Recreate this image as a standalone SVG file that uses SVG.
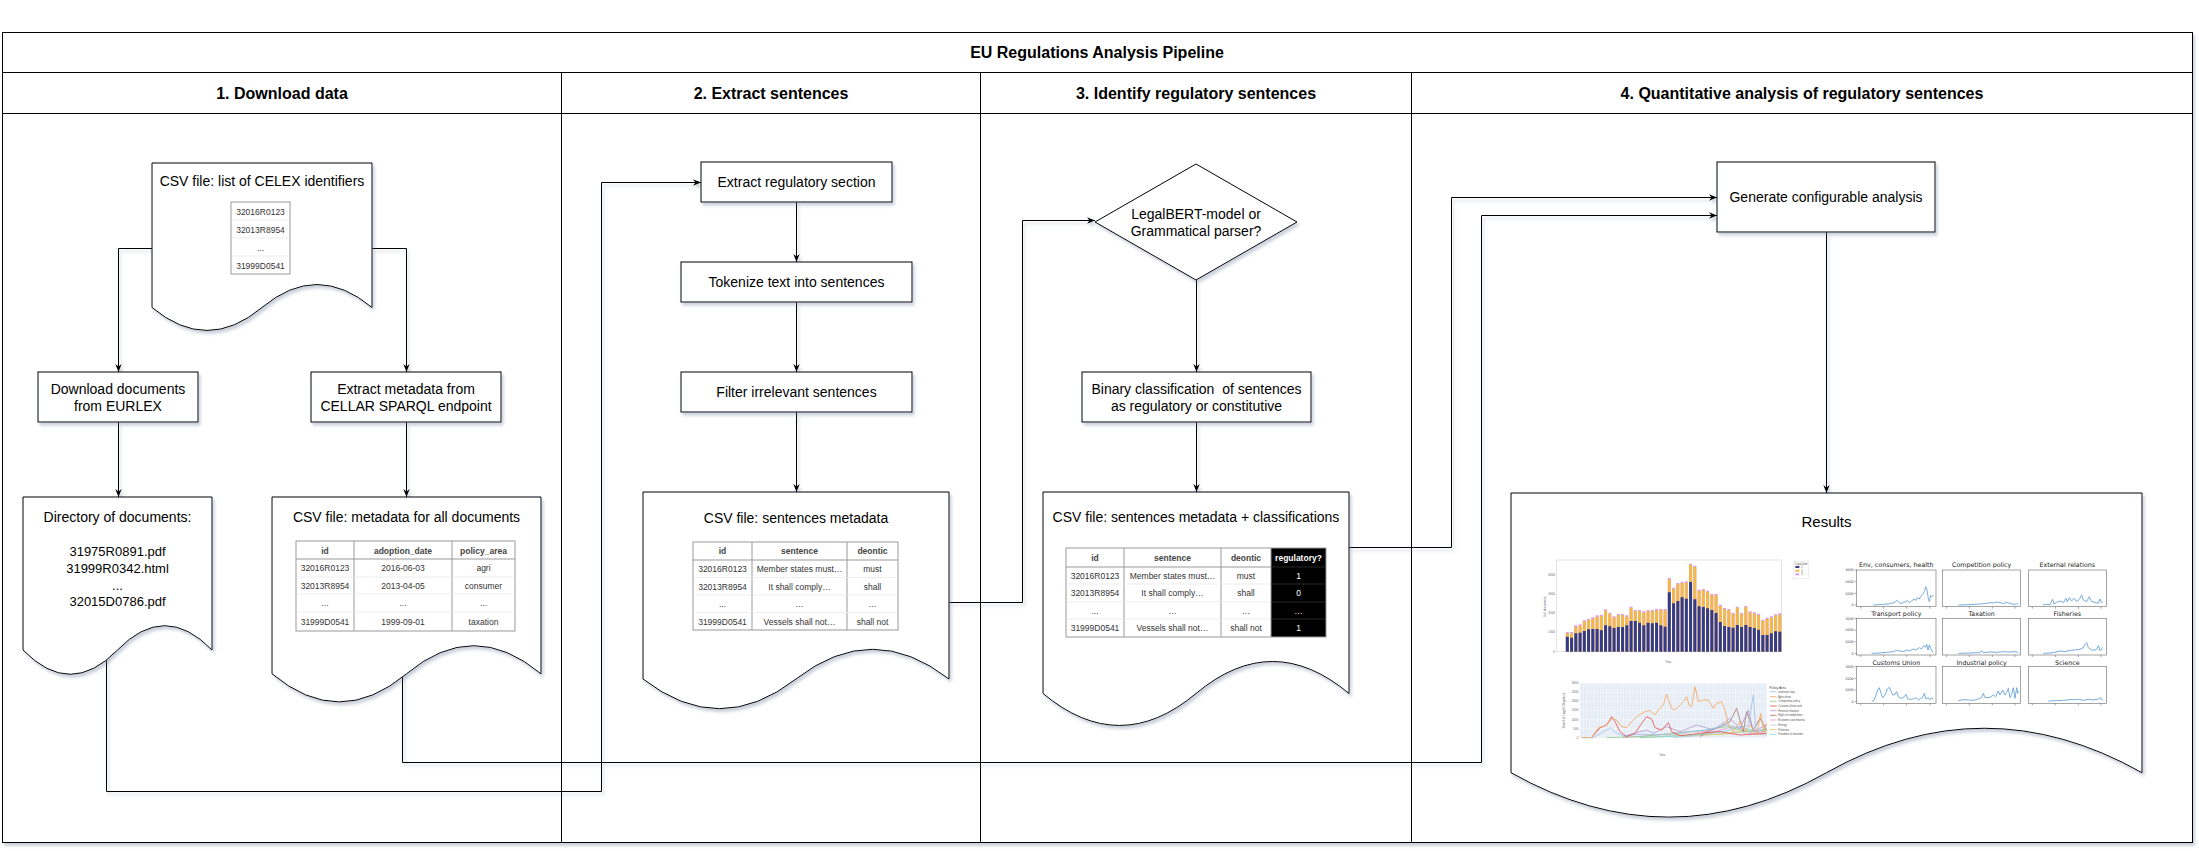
<svg xmlns="http://www.w3.org/2000/svg" width="2199" height="851" viewBox="0 0 2199 851">
<defs>
<style>
text{font-family:"Liberation Sans",Arial,Helvetica,sans-serif}
.ln{fill:none;stroke:#000;stroke-width:1}
.la{fill:none;stroke:#000;stroke-width:1;marker-end:url(#arr)}
.box{fill:#fff;stroke:#000;stroke-width:1}
.t14{font-size:14px;fill:#000;text-anchor:middle}
.t13{font-size:13px;fill:#000;text-anchor:middle}
.hd{font-size:16px;font-weight:bold;fill:#000;text-anchor:middle}
.tb{font-size:8.5px;fill:#333;text-anchor:middle}
.th{font-size:8.5px;font-weight:bold;fill:#444;text-anchor:middle}
.tw{font-size:8.5px;fill:#fff;text-anchor:middle}
.twh{font-size:8.5px;font-weight:bold;fill:#fff;text-anchor:middle}
.tg{fill:none;stroke:#999;stroke-width:1}
.tf{fill:none;stroke:#e8e8e8;stroke-width:0.8}
.sp{fill:none;stroke:#5b9bd5;stroke-width:2.5;stroke-linejoin:round}
.fr{fill:#fff;stroke:#777;stroke-width:2}
.st{font-family:"DejaVu Sans",sans-serif;font-size:19px;fill:#222;text-anchor:middle}
.yt{font-family:"DejaVu Sans",sans-serif;font-size:10px;fill:#444;text-anchor:end}
.pl{fill:none;stroke-width:2.5;stroke-linejoin:round}
.lg{font-size:8px;fill:#555}
.ax{font-size:9px;fill:#666}
</style>
<filter id="sh" filterUnits="userSpaceOnUse" x="0" y="0" width="2199" height="851">
<feDropShadow dx="2" dy="3" stdDeviation="1.5" flood-color="#6b7a99" flood-opacity="0.35"/>
</filter>
<marker id="arr" viewBox="0 0 10 10" refX="10" refY="5" markerWidth="8" markerHeight="8" markerUnits="userSpaceOnUse" orient="auto">
<path d="M0 1 L10 5 L0 9 L3 5 Z" fill="#000"/>
</marker>
<pattern id="vgrid" patternUnits="userSpaceOnUse" x="120" y="0" width="8.6" height="10">
<rect x="0" y="0" width="1.2" height="10" fill="#fff"/>
</pattern>
</defs>
<rect x="0" y="0" width="2199" height="851" fill="#fff"/>

<g id="pool" filter="url(#sh)">
<rect x="2.5" y="32.5" width="2190" height="810" fill="#fff" stroke="#000" stroke-width="1"/>
<path class="ln" d="M2.5 72.5H2192.5M2.5 113.5H2192.5M561.5 72.5V842.5M980.5 72.5V842.5M1411.5 72.5V842.5"/>
</g>
<g id="pool-labels">
<text class="hd" x="1097" y="58">EU Regulations Analysis Pipeline</text>
<text class="hd" x="282" y="99">1. Download data</text>
<text class="hd" x="771" y="99">2. Extract sentences</text>
<text class="hd" x="1196" y="99">3. Identify regulatory sentences</text>
<text class="hd" x="1802" y="99">4. Quantitative analysis of regulatory sentences</text>
</g>

<g id="connectors" filter="url(#sh)">
<path class="la" d="M152 248.5H118.5V372"/>
<path class="la" d="M372 248.5H406.5V372"/>
<path class="la" d="M118.5 422V497"/>
<path class="la" d="M406.5 422V497"/>
<path class="la" d="M106.5 655V791.5H601.5V182.5H701"/>
<path class="la" d="M402.5 670V762.5H1481.5V215.5H1717"/>
<path class="la" d="M796.5 202V262"/>
<path class="la" d="M796.5 302V372"/>
<path class="la" d="M796.5 412V492"/>
<path class="la" d="M949 602.5H1022.5V220.5H1095"/>
<path class="la" d="M1196.5 280V372"/>
<path class="la" d="M1196.5 422V492"/>
<path class="la" d="M1349 547.5H1451.5V197.5H1717"/>
<path class="la" d="M1826.5 232V493"/>
</g>

<g id="node-celex-list">
<path class="box" filter="url(#sh)" d="M152 163H372V307.5Q317 261.6 262 307.5Q207 353.4 152 307.5Z"/>
<text class="t14" x="262" y="186">CSV file: list of CELEX identifiers</text>
<rect class="tg" x="231" y="202" width="59" height="72"/>
<path class="tf" d="M231.5 220H289.5M231.5 238H289.5M231.5 256H289.5"/>
<text class="tb" x="260.5" y="214.5">32016R0123</text>
<text class="tb" x="260.5" y="232.5">32013R8954</text>
<text class="tb" x="260.5" y="250.5">...</text>
<text class="tb" x="260.5" y="268.5">31999D0541</text>
</g>

<g id="node-download">
<rect class="box" filter="url(#sh)" x="38" y="372" width="160" height="50"/>
<text class="t14" x="118" y="394">Download documents</text>
<text class="t14" x="118" y="411">from EURLEX</text>
</g>

<g id="node-extract-metadata">
<rect class="box" filter="url(#sh)" x="311" y="372" width="190" height="50"/>
<text class="t14" x="406" y="394">Extract metadata from</text>
<text class="t14" x="406" y="411">CELLAR SPARQL endpoint</text>
</g>

<g id="node-directory">
<path class="box" filter="url(#sh)" d="M23 497H212V650Q164.75 601.4 117.5 650Q70.25 698.6 23 650Z"/>
<text class="t14" x="117.5" y="522">Directory of documents:</text>
<text class="t13" x="117.5" y="556">31975R0891.pdf</text>
<text class="t13" x="117.5" y="573">31999R0342.html</text>
<text class="t13" x="117.5" y="590">...</text>
<text class="t13" x="117.5" y="606">32015D0786.pdf</text>
</g>

<g id="node-metadata-csv">
<path class="box" filter="url(#sh)" d="M272 497H541V673.8Q473.75 617.6 406.5 673.8Q339.25 730 272 673.8Z"/>
<text class="t14" x="406.5" y="522">CSV file: metadata for all documents</text>
<rect class="tg" x="296" y="541" width="219" height="90"/>
<path class="tg" d="M296 559H515M354 541V631M452 541V631"/>
<path class="tf" d="M296.5 577H353.5M354.5 577H451.5M452.5 577H514.5M296.5 594H514.5M296.5 612H514.5"/>
<text class="th" x="325" y="553.5">id</text>
<text class="th" x="403" y="553.5">adoption_date</text>
<text class="th" x="483.5" y="553.5">policy_area</text>
<text class="tb" x="325" y="571">32016R0123</text>
<text class="tb" x="403" y="571">2016-06-03</text>
<text class="tb" x="483.5" y="571">agri</text>
<text class="tb" x="325" y="588.5">32013R8954</text>
<text class="tb" x="403" y="588.5">2013-04-05</text>
<text class="tb" x="483.5" y="588.5">consumer</text>
<text class="tb" x="325" y="606">...</text>
<text class="tb" x="403" y="606">...</text>
<text class="tb" x="483.5" y="606">...</text>
<text class="tb" x="325" y="624.5">31999D0541</text>
<text class="tb" x="403" y="624.5">1999-09-01</text>
<text class="tb" x="483.5" y="624.5">taxation</text>
</g>

<g id="node-extract-section">
<rect class="box" filter="url(#sh)" x="701" y="162" width="191" height="40"/>
<text class="t14" x="796.5" y="187">Extract regulatory section</text>
</g>

<g id="node-tokenize">
<rect class="box" filter="url(#sh)" x="681" y="262" width="231" height="40"/>
<text class="t14" x="796.5" y="287">Tokenize text into sentences</text>
</g>

<g id="node-filter">
<rect class="box" filter="url(#sh)" x="681" y="372" width="231" height="40"/>
<text class="t14" x="796.5" y="397">Filter irrelevant sentences</text>
</g>

<g id="node-sentences-csv">
<path class="box" filter="url(#sh)" d="M643 492H949V679Q872.5 619.6 796 679Q719.5 738.4 643 679Z"/>
<text class="t14" x="796" y="523">CSV file: sentences metadata</text>
<rect class="tg" x="693" y="542" width="205" height="88"/>
<path class="tg" d="M693 560H898M752 542V630M847 542V630"/>
<path class="tf" d="M693.5 577.5H897.5M693.5 595H897.5M693.5 612.5H897.5"/>
<text class="th" x="722.5" y="554">id</text>
<text class="th" x="799.5" y="554">sentence</text>
<text class="th" x="872.5" y="554">deontic</text>
<text class="tb" x="722.5" y="572">32016R0123</text>
<text class="tb" x="799.5" y="572">Member states must…</text>
<text class="tb" x="872.5" y="572">must</text>
<text class="tb" x="722.5" y="589.5">32013R8954</text>
<text class="tb" x="799.5" y="589.5">It shall comply…</text>
<text class="tb" x="872.5" y="589.5">shall</text>
<text class="tb" x="722.5" y="607">...</text>
<text class="tb" x="799.5" y="607">…</text>
<text class="tb" x="872.5" y="607">…</text>
<text class="tb" x="722.5" y="624.5">31999D0541</text>
<text class="tb" x="799.5" y="624.5">Vessels shall not…</text>
<text class="tb" x="872.5" y="624.5">shall not</text>
</g>

<g id="node-decision">
<path class="box" filter="url(#sh)" d="M1196 164L1297 222L1196 280L1095 222Z"/>
<text class="t14" x="1196" y="219">LegalBERT-model or</text>
<text class="t14" x="1196" y="236">Grammatical parser?</text>
</g>

<g id="node-binary">
<rect class="box" filter="url(#sh)" x="1082" y="372" width="229" height="50"/>
<text class="t14" x="1196.5" y="394" xml:space="preserve">Binary classification  of sentences</text>
<text class="t14" x="1196.5" y="411">as regulatory or constitutive</text>
</g>

<g id="node-classified-csv">
<path class="box" filter="url(#sh)" d="M1043 492H1349V693.5Q1272.5 629.5 1196 693.5Q1119.5 757.4 1043 693.5Z"/>
<text class="t14" x="1196" y="522">CSV file: sentences metadata + classifications</text>
<rect x="1271" y="548" width="55" height="89" fill="#000"/>
<rect class="tg" x="1066" y="548" width="260" height="89"/>
<path class="tg" d="M1066 567H1271M1124 548V637M1221 548V637M1271 548V637"/>
<path class="tf" d="M1066.5 584H1270.5M1066.5 602H1270.5M1066.5 619H1270.5"/>
<path fill="none" stroke="#333" stroke-width="0.8" d="M1271.5 567H1325.5M1271.5 584H1325.5M1271.5 602H1325.5M1271.5 619H1325.5"/>
<text class="th" x="1095" y="561">id</text>
<text class="th" x="1172.5" y="561">sentence</text>
<text class="th" x="1246" y="561">deontic</text>
<text class="twh" x="1298.5" y="561">regulatory?</text>
<text class="tb" x="1095" y="578.5">32016R0123</text>
<text class="tb" x="1172.5" y="578.5">Member states must…</text>
<text class="tb" x="1246" y="578.5">must</text>
<text class="tw" x="1298.5" y="578.5">1</text>
<text class="tb" x="1095" y="596">32013R8954</text>
<text class="tb" x="1172.5" y="596">It shall comply…</text>
<text class="tb" x="1246" y="596">shall</text>
<text class="tw" x="1298.5" y="596">0</text>
<text class="tb" x="1095" y="613.5">...</text>
<text class="tb" x="1172.5" y="613.5">…</text>
<text class="tb" x="1246" y="613.5">…</text>
<text class="tw" x="1298.5" y="613.5">…</text>
<text class="tb" x="1095" y="631">31999D0541</text>
<text class="tb" x="1172.5" y="631">Vessels shall not…</text>
<text class="tb" x="1246" y="631">shall not</text>
<text class="tw" x="1298.5" y="631">1</text>
</g>

<g id="node-generate">
<rect class="box" filter="url(#sh)" x="1717" y="162" width="218" height="70"/>
<text class="t14" x="1826" y="202">Generate configurable analysis</text>
</g>

<g id="node-results">
<path class="box" filter="url(#sh)" d="M1511 493H2142V772.7Q1984.25 683.8 1826.5 772.7Q1668.75 861.5 1511 772.7Z"/>
<text x="1826.5" y="527" font-size="15" text-anchor="middle" fill="#000">Results</text>

<g transform="translate(1540,545) scale(0.333333)">
<rect x="50" y="45" width="675" height="275" fill="#fff" stroke="#d6d6d6" stroke-width="2"/>
<path fill="#e39ddd" d="M77.5 320V261h9V320zM90.25 320V261h9V320zM103 320V241h9V320zM115.75 320V238h9V320zM128.5 320V226h9V320zM141.25 320V222h9V320zM154 320V217h9V320zM166.75 320V211h9V320zM179.5 320V209h9V320zM192.25 320V193h9V320zM205 320V203h9V320zM217.75 320V214h9V320zM230.5 320V207h9V320zM243.25 320V207h9V320zM256 320V211h9V320zM268.75 320V185h9V320zM281.5 320V195h9V320zM294.25 320V195h9V320zM307 320V199h9V320zM319.75 320V195h9V320zM332.5 320V195h9V320zM345.25 320V192h9V320zM358 320V192h9V320zM370.75 320V192h9V320zM383.5 320V99h9V320zM396.25 320V128h9V320zM409 320V114h9V320zM421.75 320V110h9V320zM434.5 320V109h9V320zM447.25 320V56h9V320zM460 320V62h9V320zM472.75 320V134h9V320zM485.5 320V132h9V320zM498.25 320V137h9V320zM511 320V147h9V320zM523.75 320V147h9V320zM536.5 320V179h9V320zM549.25 320V189h9V320zM562 320V192h9V320zM574.75 320V203h9V320zM587.5 320V185h9V320zM600.25 320V204h9V320zM613 320V183h9V320zM625.75 320V199h9V320zM638.5 320V202h9V320zM651.25 320V207h9V320zM664 320V224h9V320zM676.75 320V218h9V320zM689.5 320V214h9V320zM702.25 320V208h9V320zM715 320V205h9V320z"/>
<path fill="#f2b84b" d="M77.5 320V265h9V320zM90.25 320V265h9V320zM103 320V245h9V320zM115.75 320V242h9V320zM128.5 320V230h9V320zM141.25 320V226h9V320zM154 320V221h9V320zM166.75 320V215h9V320zM179.5 320V213h9V320zM192.25 320V197h9V320zM205 320V207h9V320zM217.75 320V218h9V320zM230.5 320V211h9V320zM243.25 320V211h9V320zM256 320V215h9V320zM268.75 320V189h9V320zM281.5 320V199h9V320zM294.25 320V199h9V320zM307 320V203h9V320zM319.75 320V199h9V320zM332.5 320V199h9V320zM345.25 320V196h9V320zM358 320V196h9V320zM370.75 320V196h9V320zM383.5 320V103h9V320zM396.25 320V132h9V320zM409 320V118h9V320zM421.75 320V114h9V320zM434.5 320V113h9V320zM447.25 320V60h9V320zM460 320V66h9V320zM472.75 320V138h9V320zM485.5 320V136h9V320zM498.25 320V141h9V320zM511 320V151h9V320zM523.75 320V151h9V320zM536.5 320V183h9V320zM549.25 320V193h9V320zM562 320V196h9V320zM574.75 320V207h9V320zM587.5 320V189h9V320zM600.25 320V208h9V320zM613 320V187h9V320zM625.75 320V203h9V320zM638.5 320V206h9V320zM651.25 320V211h9V320zM664 320V228h9V320zM676.75 320V222h9V320zM689.5 320V218h9V320zM702.25 320V212h9V320zM715 320V209h9V320z"/>
<path fill="#333c85" d="M77.5 320V275h9V320zM90.25 320V278h9V320zM103 320V265h9V320zM115.75 320V263h9V320zM128.5 320V258h9V320zM141.25 320V253h9V320zM154 320V252h9V320zM166.75 320V252h9V320zM179.5 320V256h9V320zM192.25 320V241h9V320zM205 320V244h9V320zM217.75 320V249h9V320zM230.5 320V246h9V320zM243.25 320V246h9V320zM256 320V241h9V320zM268.75 320V228h9V320zM281.5 320V228h9V320zM294.25 320V233h9V320zM307 320V241h9V320zM319.75 320V233h9V320zM332.5 320V235h9V320zM345.25 320V233h9V320zM358 320V241h9V320zM370.75 320V245h9V320zM383.5 320V142h9V320zM396.25 320V175h9V320zM409 320V168h9V320zM421.75 320V157h9V320zM434.5 320V161h9V320zM447.25 320V111h9V320zM460 320V163h9V320zM472.75 320V184h9V320zM485.5 320V186h9V320zM498.25 320V190h9V320zM511 320V195h9V320zM523.75 320V204h9V320zM536.5 320V231h9V320zM549.25 320V243h9V320zM562 320V246h9V320zM574.75 320V248h9V320zM587.5 320V240h9V320zM600.25 320V246h9V320zM613 320V240h9V320zM625.75 320V246h9V320zM638.5 320V249h9V320zM651.25 320V254h9V320zM664 320V270h9V320zM676.75 320V270h9V320zM689.5 320V265h9V320zM702.25 320V259h9V320zM715 320V260h9V320z"/>
<text class="ax" x="45" y="323" text-anchor="end">0</text>
<text class="ax" x="45" y="265" text-anchor="end">1000</text>
<text class="ax" x="45" y="208" text-anchor="end">2000</text>
<text class="ax" x="45" y="150" text-anchor="end">3000</text>
<text class="ax" x="45" y="92" text-anchor="end">4000</text>
<text class="ax" x="18" y="185" text-anchor="middle" transform="rotate(-90 18 185)"># of documents</text>
<text class="ax" x="385" y="354" text-anchor="middle">Year</text>
<rect x="760" y="50" width="45" height="50" fill="#fff" stroke="#ddd" stroke-width="1.5"/>
<text class="lg" x="765" y="59">Legal form</text>
<rect x="766" y="63" width="12" height="6" fill="#333c85"/>
<rect x="766" y="74" width="12" height="6" fill="#f2b84b"/>
<rect x="766" y="85" width="12" height="6" fill="#e39ddd"/>
<text class="lg" x="784" y="69">1</text>
<text class="lg" x="784" y="80">2</text>
<text class="lg" x="784" y="91">3</text>

<rect x="120" y="415" width="560" height="163" fill="#e5ecf6"/>
<rect x="120" y="415" width="560" height="163" fill="url(#vgrid)"/>
<path fill="none" stroke="#fff" stroke-width="1.5" d="M120 442H680M120 469H680M120 496H680M120 524H680M120 551H680"/>
<text class="ax" x="115" y="418" text-anchor="end">3000</text>
<text class="ax" x="115" y="445" text-anchor="end">2500</text>
<text class="ax" x="115" y="472" text-anchor="end">2000</text>
<text class="ax" x="115" y="499" text-anchor="end">1500</text>
<text class="ax" x="115" y="527" text-anchor="end">1000</text>
<text class="ax" x="115" y="554" text-anchor="end">500</text>
<text class="ax" x="115" y="581" text-anchor="end">0</text>
<text class="ax" x="75" y="497" text-anchor="middle" transform="rotate(-90 75 497)">Total # of Legal Obligations</text>
<text class="ax" x="367" y="633" text-anchor="middle">Year</text>
<polyline class="pl" stroke="#c7c7c7" points="400,578 500,570 600,562 680,570"/>
<polyline class="pl" stroke="#cfcf5c" points="300,578 350,575 450,570 550,568 620,555 680,560"/>
<polyline class="pl" stroke="#e99bd1" points="250,578 350,570 450,560 520,560 580,545 640,565 680,560"/>
<polyline class="pl" stroke="#8fd18b" points="200,578 300,575 400,565 500,555 560,545 620,560 680,555"/>
<polyline class="pl" stroke="#7fd6e0" points="300,578 450,572 550,560 600,545 650,560 680,550"/>
<polyline class="pl" stroke="#a8796b" points="480,575 500,560 540,545 570,530 590,490 610,560 620,500 640,555 660,520 680,555"/>
<polyline class="pl" stroke="#b59ad8" points="250,575 300,560 320,555 340,565 380,545 420,560 470,540 520,555 570,520 600,550 625,495 640,560 680,540"/>
<polyline class="pl" stroke="#9dc3e6" points="125,578 160,578 190,560 212,548 225,562 250,572 300,568 400,570 450,560 500,555 560,540 600,550 625,540 640,450 648,560 680,550"/>
<polyline class="pl" stroke="#e4524d" points="155,578 180,548 200,540 215,515 225,530 240,560 260,575 285,565 305,535 320,515 335,522 345,548 365,555 385,533 395,560 420,572 480,565 540,560 600,570 680,565"/>
<polyline class="pl" stroke="#f5a55a" points="125,578 155,578 175,548 190,545 205,535 215,520 230,525 245,545 260,548 275,530 290,515 305,505 320,498 330,497 345,510 355,495 370,480 380,448 395,490 405,495 420,480 430,470 440,455 447,480 455,485 465,425 475,470 490,465 505,465 520,490 530,475 545,470 555,495 565,540 580,560 600,530 615,560 630,540 650,570 662,505 672,560 680,535"/>
<text x="688" y="431" font-size="10" fill="#444">Policy Area</text>
<path fill="none" stroke-width="2.5" stroke="#9dc3e6" d="M690 440H710"/>
<path fill="none" stroke-width="2.5" stroke="#f5a55a" d="M690 455H710"/>
<path fill="none" stroke-width="2.5" stroke="#8fd18b" d="M690 469H710"/>
<path fill="none" stroke-width="2.5" stroke="#e4524d" d="M690 483H710"/>
<path fill="none" stroke-width="2.5" stroke="#b59ad8" d="M690 497H710"/>
<path fill="none" stroke-width="2.5" stroke="#a8796b" d="M690 511H710"/>
<path fill="none" stroke-width="2.5" stroke="#e99bd1" d="M690 525H710"/>
<path fill="none" stroke-width="2.5" stroke="#c7c7c7" d="M690 540H710"/>
<path fill="none" stroke-width="2.5" stroke="#cfcf5c" d="M690 554H710"/>
<path fill="none" stroke-width="2.5" stroke="#7fd6e0" d="M690 568H710"/>
<text class="lg" x="715" y="443">unknown topic</text>
<text class="lg" x="715" y="458">Agriculture</text>
<text class="lg" x="715" y="472">Competition policy</text>
<text class="lg" x="715" y="486">Customs Union and</text>
<text class="lg" x="715" y="500">External relations</text>
<text class="lg" x="715" y="514">Right of establishme</text>
<text class="lg" x="715" y="528">Economic and moneta</text>
<text class="lg" x="715" y="543">Energy</text>
<text class="lg" x="715" y="557">Fisheries</text>
<text class="lg" x="715" y="571">Freedom of moveme</text>
</g>

<g transform="translate(1830,555) scale(0.333333)">
<rect class="fr" x="80" y="45" width="238" height="110"/>
<rect class="fr" x="338" y="45" width="234" height="110"/>
<rect class="fr" x="595" y="45" width="235" height="110"/>
<rect class="fr" x="80" y="190" width="238" height="110"/>
<rect class="fr" x="338" y="190" width="234" height="110"/>
<rect class="fr" x="595" y="190" width="235" height="110"/>
<rect class="fr" x="80" y="335" width="238" height="110"/>
<rect class="fr" x="338" y="335" width="234" height="110"/>
<rect class="fr" x="595" y="335" width="235" height="110"/>
<path fill="none" stroke="#777" stroke-width="2" d="M92 155v6M161 155v6M230 155v6M300 155v6M350 155v6M418 155v6M487 155v6M555 155v6M607 155v6M676 155v6M745 155v6M813 155v6M92 300v6M161 300v6M230 300v6M300 300v6M350 300v6M418 300v6M487 300v6M555 300v6M607 300v6M676 300v6M745 300v6M813 300v6M92 445v6M161 445v6M230 445v6M300 445v6M350 445v6M418 445v6M487 445v6M555 445v6M607 445v6M676 445v6M745 445v6M813 445v6M74 45h6M74 80h6M74 115h6M74 150h6M74 190h6M74 225h6M74 260h6M74 295h6M74 335h6M74 370h6M74 405h6M74 440h6"/>
<text class="st" x="199" y="37">Env, consumers, health</text>
<text class="st" x="455" y="37">Competition policy</text>
<text class="st" x="712" y="37">External relations</text>
<text class="st" x="199" y="184">Transport policy</text>
<text class="st" x="455" y="184">Taxation</text>
<text class="st" x="712" y="184">Fisheries</text>
<text class="st" x="199" y="329">Customs Union</text>
<text class="st" x="455" y="329">Industrial policy</text>
<text class="st" x="712" y="329">Science</text>
<text class="yt" x="71" y="49">3000</text>
<text class="yt" x="71" y="84">2000</text>
<text class="yt" x="71" y="119">1000</text>
<text class="yt" x="71" y="154">0</text>
<text class="yt" x="71" y="194">3000</text>
<text class="yt" x="71" y="229">2000</text>
<text class="yt" x="71" y="264">1000</text>
<text class="yt" x="71" y="299">0</text>
<text class="yt" x="71" y="339">3000</text>
<text class="yt" x="71" y="374">2000</text>
<text class="yt" x="71" y="409">1000</text>
<text class="yt" x="71" y="444">0</text>
<polyline class="sp" points="130,150 145,149 160,148 175,147 185,145 195,142 200,136 205,140 212,146 220,142 228,140 232,136 238,143 245,138 252,132 258,136 262,128 268,132 272,125 278,118 283,110 287,95 291,105 295,130 298,140 302,122 306,125 310,120"/>
<polyline class="sp" points="385,150 420,149 450,147 470,145 480,143 490,144 500,141 510,143 520,146 530,142 540,145 550,148 560,147 565,145"/>
<polyline class="sp" points="638,150 650,148 660,149 668,133 672,147 680,142 690,138 700,143 708,130 712,140 718,128 725,138 732,130 740,140 748,133 755,120 760,135 770,140 778,125 785,140 795,142 805,145 810,132 815,143 818,140"/>
<polyline class="sp" points="125,295 150,294 170,292 190,290 200,286 210,288 220,290 232,285 240,288 250,282 258,285 268,278 275,282 282,272 287,276 290,268 294,285 298,270 302,280 306,288 310,292"/>
<polyline class="sp" points="385,295 420,294 450,293 455,287 460,293 480,291 500,292 520,290 540,291 555,290 565,292"/>
<polyline class="sp" points="640,295 660,294 675,292 690,288 705,290 720,286 735,285 750,283 760,278 765,268 770,263 775,278 785,285 798,285 806,272 810,287 815,283 818,277"/>
<polyline class="sp" points="125,440 132,436 138,420 143,405 148,398 153,415 158,428 165,420 172,402 178,397 183,408 188,420 195,418 200,410 205,425 212,430 220,428 228,418 233,432 240,433 250,432 258,428 265,435 272,430 278,428 283,415 288,432 295,428 300,435 305,428 310,433"/>
<polyline class="sp" points="385,437 400,434 415,435 430,436 445,432 455,428 460,415 465,428 480,427 490,420 497,425 505,408 510,420 518,405 525,420 530,412 535,400 540,428 545,418 550,398 555,430 560,398 563,415 565,408"/>
<polyline class="sp" points="655,438 680,437 700,436 720,434 735,434 745,433 760,436 775,433 790,435 805,432 812,428 818,437"/>
</g>
</g>
</svg>
